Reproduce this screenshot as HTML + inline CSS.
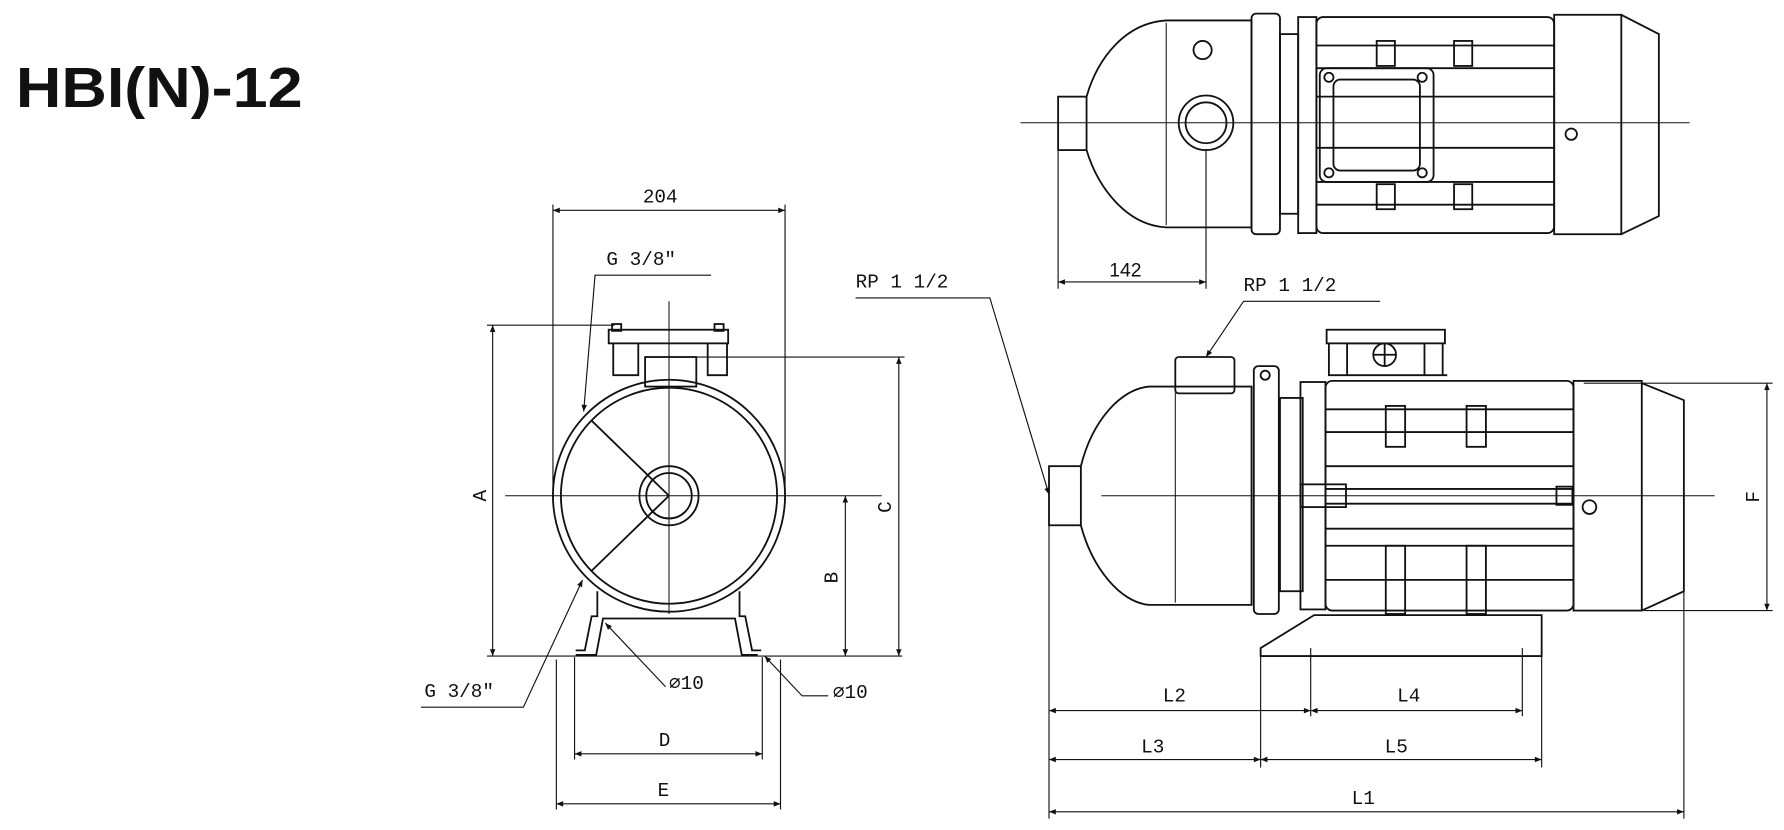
<!DOCTYPE html>
<html><head><meta charset="utf-8"><style>
html,body{margin:0;padding:0;background:#fff;width:1784px;height:830px;overflow:hidden}
svg{display:block}
text{font-family:"Liberation Mono",monospace;fill:#111;font-size:17px}
</style></head><body>
<svg width="1784" height="830" viewBox="0 0 1568 730" preserveAspectRatio="none" xmlns="http://www.w3.org/2000/svg">
<defs>
<marker id="a" viewBox="0 0 10 10" refX="10" refY="5" markerWidth="13" markerHeight="6" orient="auto-start-reverse" markerUnits="userSpaceOnUse"><path d="M0,1 L10,5 L0,9 z" fill="#111"/></marker>
</defs>
<text x="14" y="94" textLength="252" lengthAdjust="spacingAndGlyphs" style="font-family:'Liberation Sans',sans-serif;font-weight:bold;font-size:50px">HBI(N)-12</text>
<g stroke="#111" fill="none" stroke-width="1.6">
<!-- FRONT VIEW -->
<line x1="588" y1="265" x2="588" y2="540" stroke-width="0.9"/>
<line x1="444" y1="436" x2="775" y2="436" stroke-width="0.9"/>
<circle cx="588" cy="436" r="102"/>
<circle cx="588" cy="436" r="95"/>
<circle cx="588" cy="436" r="26"/>
<circle cx="588" cy="436" r="20"/>
<line x1="520" y1="370" x2="588" y2="436"/><line x1="520" y1="502" x2="588" y2="436"/>
<rect x="535" y="290" width="105" height="12"/>
<rect x="538" y="285" width="8" height="6"/><rect x="628" y="285" width="8" height="6"/>
<path d="M539 302 v28 h22 v-28 M622 302 v28 h17 v-28"/>
<rect x="567" y="314" width="45" height="26"/>
<path d="M525 520 v22 h-5 l-6 30 h-8 M650 520 v22 h5 l6 30 h8"/>
<path d="M506 576 h18 l6 -32 h116 l6 32 h14"/>
<!-- front dims -->
<g stroke-width="1">
<line x1="486" y1="180" x2="486" y2="440"/>
<line x1="690" y1="180" x2="690" y2="440"/>
<line x1="486" y1="185" x2="690" y2="185" marker-start="url(#a)" marker-end="url(#a)"/>
<line x1="428" y1="286" x2="540" y2="286"/>
<line x1="428" y1="577" x2="793" y2="577"/>
<line x1="433" y1="286" x2="433" y2="577" marker-start="url(#a)" marker-end="url(#a)"/>
<line x1="612" y1="314" x2="795" y2="314"/>
<line x1="790" y1="314" x2="790" y2="577" marker-start="url(#a)" marker-end="url(#a)"/>
<line x1="743" y1="436" x2="743" y2="577" marker-start="url(#a)" marker-end="url(#a)"/>
<line x1="505" y1="578" x2="505" y2="668"/><line x1="670" y1="578" x2="670" y2="668"/>
<line x1="489" y1="580" x2="489" y2="712"/><line x1="686" y1="580" x2="686" y2="712"/>
<line x1="505" y1="663" x2="670" y2="663" marker-start="url(#a)" marker-end="url(#a)"/>
<line x1="489" y1="707" x2="686" y2="707" marker-start="url(#a)" marker-end="url(#a)"/>
<path d="M625 242 H523 L513 362" marker-end="url(#a)"/>
<path d="M370 622 H460 L512 510" marker-end="url(#a)"/>
<path d="M585 604 L532 548" marker-end="url(#a)"/>
<path d="M728 612 H705 L672 577" marker-end="url(#a)"/>
</g>
<!-- SIDE VIEW -->
<line x1="968" y1="436" x2="1507" y2="436" stroke-width="0.9"/>
<rect x="922" y="410" width="28" height="52"/>
<path d="M950 410 C960 370 985 342 1010 340 H1100 V532 H1010 C985 530 960 500 950 462"/>
<line x1="1033" y1="345" x2="1033" y2="530" stroke-width="0.9"/>
<rect x="1033" y="314" width="52" height="32" rx="3"/>
<rect x="1102" y="322" width="22" height="218" rx="4"/>
<circle cx="1112" cy="330" r="4"/>
<rect x="1125" y="350" width="20" height="170"/>
<rect x="1143" y="336" width="22" height="200"/>
<rect x="1165" y="335" width="218" height="202" rx="6"/>
<path d="M1165 360 H1383 M1165 380 H1383 M1165 410 H1383 M1165 430 H1383 M1165 443 H1383 M1165 465 H1383 M1165 480 H1383 M1165 510 H1383"/>
<rect x="1218" y="357" width="17" height="36"/><rect x="1289" y="357" width="17" height="36"/>
<rect x="1218" y="480" width="17" height="60"/><rect x="1289" y="480" width="17" height="60"/>
<rect x="1143" y="426" width="40" height="20"/>
<rect x="1368" y="428" width="14" height="16"/>
<rect x="1166" y="290" width="104" height="12"/>
<path d="M1168 302 v28 h16 v-28 M1252 302 v28 h16 v-28 M1184 302 h68 M1180 330 h92"/>
<circle cx="1217" cy="312" r="10"/><path d="M1207 312h20 M1217 302v20"/>
<rect x="1383" y="335" width="60" height="202"/>
<path d="M1443 337 L1480 352 V520 L1443 537"/>
<circle cx="1397" cy="446" r="6"/>
<path d="M1108 570 L1155 541 H1355 V577 H1108 Z"/>
<g stroke-width="1">
<line x1="1392" y1="337" x2="1558" y2="337"/>
<line x1="1445" y1="537" x2="1558" y2="537"/>
<line x1="1553" y1="337" x2="1553" y2="537" marker-start="url(#a)" marker-end="url(#a)"/>
<line x1="922" y1="462" x2="922" y2="720"/>
<line x1="1108" y1="577" x2="1108" y2="675"/>
<line x1="1152" y1="570" x2="1152" y2="630"/>
<line x1="1338" y1="570" x2="1338" y2="630"/>
<line x1="1355" y1="577" x2="1355" y2="675"/>
<line x1="1480" y1="520" x2="1480" y2="720"/>
<line x1="922" y1="625" x2="1152" y2="625" marker-start="url(#a)" marker-end="url(#a)"/>
<line x1="1152" y1="625" x2="1338" y2="625" marker-start="url(#a)" marker-end="url(#a)"/>
<line x1="922" y1="668" x2="1108" y2="668" marker-start="url(#a)" marker-end="url(#a)"/>
<line x1="1108" y1="668" x2="1355" y2="668" marker-start="url(#a)" marker-end="url(#a)"/>
<line x1="922" y1="714" x2="1480" y2="714" marker-start="url(#a)" marker-end="url(#a)"/>
<path d="M752 262 H870 L922 435" marker-end="url(#a)"/>
<path d="M1213 265 H1093 L1060 314" marker-end="url(#a)"/>
</g>
<!-- TOP VIEW -->
<line x1="897" y1="108" x2="1485" y2="108" stroke-width="0.9"/>
<rect x="930" y="85" width="25" height="47"/>
<path d="M955 85 C965 50 990 20 1025 18 H1100 V200 H1025 C990 198 965 165 955 132"/>
<line x1="1025" y1="20" x2="1025" y2="198" stroke-width="0.9"/>
<circle cx="1060" cy="108" r="24"/><circle cx="1060" cy="108" r="18"/>
<circle cx="1057" cy="44" r="8"/>
<rect x="1100" y="12" width="25" height="194" rx="4"/>
<rect x="1125" y="30" width="16" height="158"/>
<rect x="1141" y="15" width="16" height="190"/>
<rect x="1157" y="15" width="209" height="190" rx="6"/>
<path d="M1157 40 H1366 M1157 60 H1366 M1157 85 H1366 M1157 130 H1366 M1157 160 H1366 M1157 180 H1366"/>
<rect x="1210" y="36" width="16" height="22"/><rect x="1278" y="36" width="16" height="22"/>
<rect x="1210" y="162" width="16" height="22"/><rect x="1278" y="162" width="16" height="22"/>
<rect x="1160" y="60" width="100" height="100" rx="6"/>
<rect x="1172" y="70" width="76" height="80" rx="6"/>
<circle cx="1168" cy="68" r="4"/><circle cx="1250" cy="68" r="4"/><circle cx="1168" cy="152" r="4"/><circle cx="1250" cy="152" r="4"/>
<rect x="1366" y="13" width="59" height="193"/>
<path d="M1425 13 L1458 30 V190 L1425 206"/>
<circle cx="1381" cy="118" r="5"/>
<g stroke-width="1">
<line x1="930" y1="132" x2="930" y2="254"/>
<line x1="1060" y1="132" x2="1060" y2="254"/>
<line x1="930" y1="248" x2="1060" y2="248" marker-start="url(#a)" marker-end="url(#a)"/>
</g>
</g>
<text x="565" y="178">204</text>
<text x="533" y="233">G 3/8"</text>
<text x="373" y="613">G 3/8"</text>
<text x="588" y="606">⌀10</text>
<text x="732" y="614">⌀10</text>
<text x="579" y="656">D</text>
<text x="578" y="700">E</text>
<text x="427" y="436" transform="rotate(-90 427 436)" text-anchor="middle">A</text>
<text x="736" y="508" transform="rotate(-90 736 508)" text-anchor="middle">B</text>
<text x="783" y="446" transform="rotate(-90 783 446)" text-anchor="middle">C</text>
<text x="1546" y="437" transform="rotate(-90 1546 437)" text-anchor="middle">F</text>
<text x="752" y="253">RP 1 1/2</text>
<text x="1093" y="256">RP 1 1/2</text>
<text x="975" y="243" style="font-family:'Liberation Sans',sans-serif;font-size:17px">142</text>
<text x="1022" y="617">L2</text>
<text x="1228" y="617">L4</text>
<text x="1003" y="662">L3</text>
<text x="1217" y="662">L5</text>
<text x="1188" y="707">L1</text>
</svg>
</body></html>
